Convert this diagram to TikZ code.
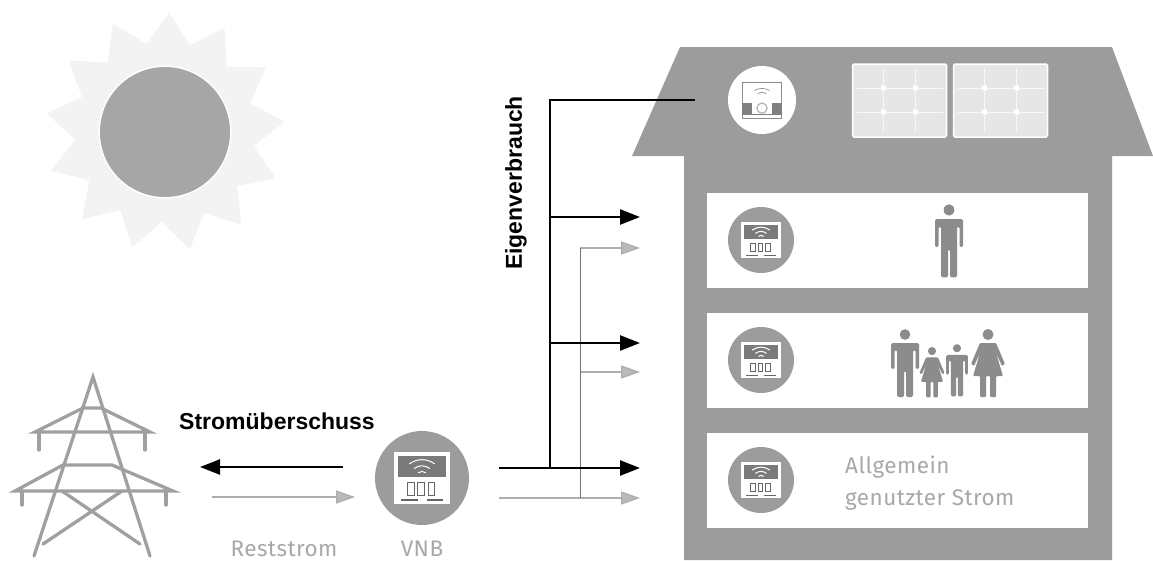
\documentclass[tikz,border=0pt]{standalone}
\usepackage{fontspec}
\setmainfont{Liberation Sans}
\newfontfamily\lightfont[LetterSpace=2]{Fira Sans}
\usetikzlibrary{arrows.meta,calc}
\definecolor{housegrey}{HTML}{9C9C9C}
\definecolor{sungrey}{HTML}{A6A6A6}
\definecolor{raygrey}{HTML}{F3F3F3}
\definecolor{panelgrey}{HTML}{E6E6E6}
\definecolor{txtgrey}{HTML}{A8A8A8}
\definecolor{arrowgrey}{HTML}{AEAEAE}
\definecolor{pylongrey}{HTML}{A0A0A0}
\tikzset{
  x=1pt,y=-1pt,
  room/.style={fill=white,draw=none},
  panelbox/.style={fill=panelgrey,draw=white,line width=1.5pt,rounded corners=1.5pt},
  blackflow/.style={draw=black,line width=2.6pt},
  greyflow/.style={draw=arrowgrey,line width=1.4pt},
  greyriser/.style={draw=black!55,line width=0.9pt},
  blackarrow/.style={blackflow,-{Triangle[length=20pt,width=15pt]}},
  greyarrow/.style={greyflow,-{Triangle[length=19pt,width=13pt,fill=arrowgrey!85!white]}},
  pylonbar/.style={draw=pylongrey,line width=3.3pt,line cap=round,line join=miter},
  persona/.style={fill=housegrey!90!black,draw=none},
  labelbold/.style={font=\bfseries\fontsize{23}{26}\selectfont,text=black,inner sep=0pt},
  labelgrey/.style={font=\lightfont\fontsize{22.5}{26}\selectfont,text=txtgrey,inner sep=0pt},
  pics/meter/.style={code={
    \fill[housegrey] (0,0) circle (1);
    \fill[white] (-.6,-.55) rectangle (.6,.55);
    \fill[black!52] (-.52,-.46) rectangle (.52,-.02);
    \draw[white,line width=1pt] (-.27,-.30) .. controls (-.1,-.42) and (.1,-.42) .. (.27,-.30);
    \draw[white,line width=1pt] (-.17,-.20) .. controls (-.06,-.28) and (.06,-.28) .. (.17,-.20);
    \draw[white,line width=1pt] (-.08,-.11) .. controls (-.03,-.15) and (.03,-.15) .. (.08,-.11);
    \foreach \q in {-.24,-.02,.2}{
      \draw[black!60,line width=.8pt] (\q-.07,.1) rectangle (\q+.07,.36);
    }
    \fill[black!60] (-.44,.44) rectangle (-.08,.49);
    \fill[black!60] (.1,.44) rectangle (.44,.49);
  }},
  pics/topmeter/.style={code={
    \fill[white] (0,0) circle (1);
    \draw[black!45,line width=.6pt] (-.58,-.53) rectangle (.58,.53);
    \draw[black!45,line width=.7pt] (-.22,-.28) .. controls (-.1,-.36) and (.1,-.36) .. (.22,-.28);
    \draw[black!45,line width=.7pt] (-.13,-.19) .. controls (-.05,-.24) and (.05,-.24) .. (.13,-.19);
    \fill[black!50] (-.58,.08) rectangle (-.3,.4);
    \fill[black!50] (.3,.08) rectangle (.58,.4);
    \draw[black!30,line width=1.2pt] (0,.24) circle (.15);
    \draw[black!50,line width=.7pt] (-.58,.42) -- (.58,.42);
  }},
  pics/solar/.style={code={
    \draw[panelbox] (0,0) rectangle (94,73);
    \foreach \q in {31,63}{\draw[white!70!panelgrey,line width=.9pt] (\q,4) -- (\q,69);}
    \foreach \q in {24,48}{\draw[white!70!panelgrey,line width=.9pt] (4,\q) -- (90,\q);}
    \foreach \a in {31,63}\foreach \b in {24,48}{\fill[white] (\a,\b) circle (3);}
  }},
  pics/manfig/.style={code={
    \fill[persona] (0,5.5) circle (5.3);
    \fill[persona,rounded corners=1.5pt] (-14,14) -- (14,14) -- (14,40) -- (10.5,40) -- (10.5,21) -- (8,21) -- (8,68) -- (1,68) -- (1,42) -- (-1,42) -- (-1,68) -- (-8,68) -- (-8,21) -- (-10.5,21) -- (-10.5,40) -- (-14,40) -- cycle;
  }},
  pics/womanfig/.style={code={
    \fill[persona] (0,5.5) circle (5.5);
    \fill[persona,rounded corners=1pt] (-8,14) -- (8,14) -- (17,35) -- (14,37) -- (8,24) -- (15,47) -- (8,47) -- (8,68) -- (2,68) -- (2,47) -- (-2,47) -- (-2,68) -- (-8,68) -- (-8,47) -- (-15,47) -- (-8,24) -- (-14,37) -- (-17,35) -- cycle;
  }},
}
\begin{document}
\begin{tikzpicture}
\useasboundingbox (0,0) rectangle (1153,560);
% sun
\fill[raygrey] ({165+120*cos(88)},{132-120*sin(88)}) \foreach \k in {0,...,12}{
  -- ({165+90*cos(88+13.846+\k*27.692)},{132-90*sin(88+13.846+\k*27.692)})
  -- ({165+120*cos(88+27.692+\k*27.692)},{132-120*sin(88+27.692+\k*27.692)})
} -- cycle;
\fill[white] (165,132) circle (66.5);
\node[circle,fill=sungrey,minimum size=130pt,inner sep=0pt] (sun) at (165,132) {};
% house
\fill[housegrey] (680,47) -- (1112,47) -- (1153,156) -- (1112,156) -- (1112,560) -- (684,560) -- (684,156) -- (632,156) -- cycle;
\node[room,minimum width=381pt,minimum height=95pt,inner sep=0pt] (room1) at (897.5,240.5) {};
\node[room,minimum width=381pt,minimum height=95pt,inner sep=0pt] (room2) at (897.5,360.5) {};
\node[room,minimum width=381pt,minimum height=95pt,inner sep=0pt] (room3) at (897.5,480.5) {};
\pic at (852.5,64) {solar};
\pic at (953.5,64) {solar};
% meters
\coordinate (mtop) at (762,100);
\begin{scope}[shift={(mtop)},x=34pt,y=-34pt]\pic {topmeter};\end{scope}
\begin{scope}[shift={(761,240)},x=33pt,y=-33pt]\pic {meter};\end{scope}
\begin{scope}[shift={(761,360)},x=33pt,y=-33pt]\pic {meter};\end{scope}
\begin{scope}[shift={(761,480)},x=33pt,y=-33pt]\pic {meter};\end{scope}
\coordinate (vnb) at (422,478);
\begin{scope}[shift={(vnb)},x=47pt,y=-47pt]\pic {meter};\end{scope}
% people
\begin{scope}[shift={(949,204)},y=-1.08pt]\pic {manfig};\end{scope}
\pic at (905,329) {manfig};
\begin{scope}[shift={(932,347)},x=.74pt,y=-.74pt]\pic {womanfig};\end{scope}
\begin{scope}[shift={(957,344)},x=.77pt,y=-.77pt]\pic {manfig};\end{scope}
\pic at (988,329) {womanfig};
% pylon
\draw[pylonbar] (34,556) -- (93,377) -- (150,556);
\draw[pylonbar] (43,544) -- (122,491);
\draw[pylonbar] (140,544) -- (62,491);
\draw[pylonbar] (35,432) -- (83,408) -- (101,408) -- (150,432) -- cycle;
\draw[pylonbar] (39,432) -- (39,450);
\draw[pylonbar] (145,432) -- (145,450);
\draw[pylonbar] (15,491) -- (63,465) -- (112,465) -- (173,491) -- cycle;
\draw[pylonbar] (22,491) -- (22,505);
\draw[pylonbar] (166,491) -- (166,505);
% connector anchors
\coordinate (bstart) at (499,468);
\coordinate (gstart) at (499,498);
\coordinate (bjoin) at (550,468);
\coordinate (gjoin) at (580,498);
\coordinate (bhouse) at (695,100);
\coordinate (btop) at (550,100);
\coordinate (b1a) at (550,217); \coordinate (b1b) at (640,217);
\coordinate (b2a) at (550,343); \coordinate (b2b) at (640,343);
\coordinate (b3b) at (640,468);
\coordinate (g1a) at (580,248); \coordinate (g1b) at (640,248);
\coordinate (g2a) at (580,372); \coordinate (g2b) at (640,372);
\coordinate (g3b) at (640,498);
\coordinate (gridout) at (200,467); \coordinate (vnbout) at (343,467);
\coordinate (gridin) at (212,497); \coordinate (vnbin) at (355,497);
% grey flows
\draw[greyarrow] (gstart) -- (g3b);
\draw[greyarrow] (g1a) -- (g1b);
\draw[greyarrow] (g2a) -- (g2b);
\draw[greyriser] (gjoin) -- (g1a);
\draw[greyarrow] (gridin) -- (vnbin);
% black flows
\draw[blackflow] (bhouse) -- (btop) -- (bjoin);
\draw[blackarrow] (bstart) -- (b3b);
\draw[blackarrow] (b1a) -- (b1b);
\draw[blackarrow] (b2a) -- (b2b);
\draw[blackarrow] (vnbout) -- (gridout);
% labels
\node[labelbold] (ueber) at (277,421) {Stromüberschuss};
\node[labelbold,rotate=90] (eigen) at (516,183) {Eigenverbrauch};
\node[labelgrey] (rest) at (284,549) {Reststrom};
\node[labelgrey] (vnblabel) at (422,549) {VNB};
\node[labelgrey,anchor=west] (allg1) at (845,467) {Allgemein};
\node[labelgrey,anchor=west] (allg2) at (845,500) {genutzter Strom};
\end{tikzpicture}
\end{document}
